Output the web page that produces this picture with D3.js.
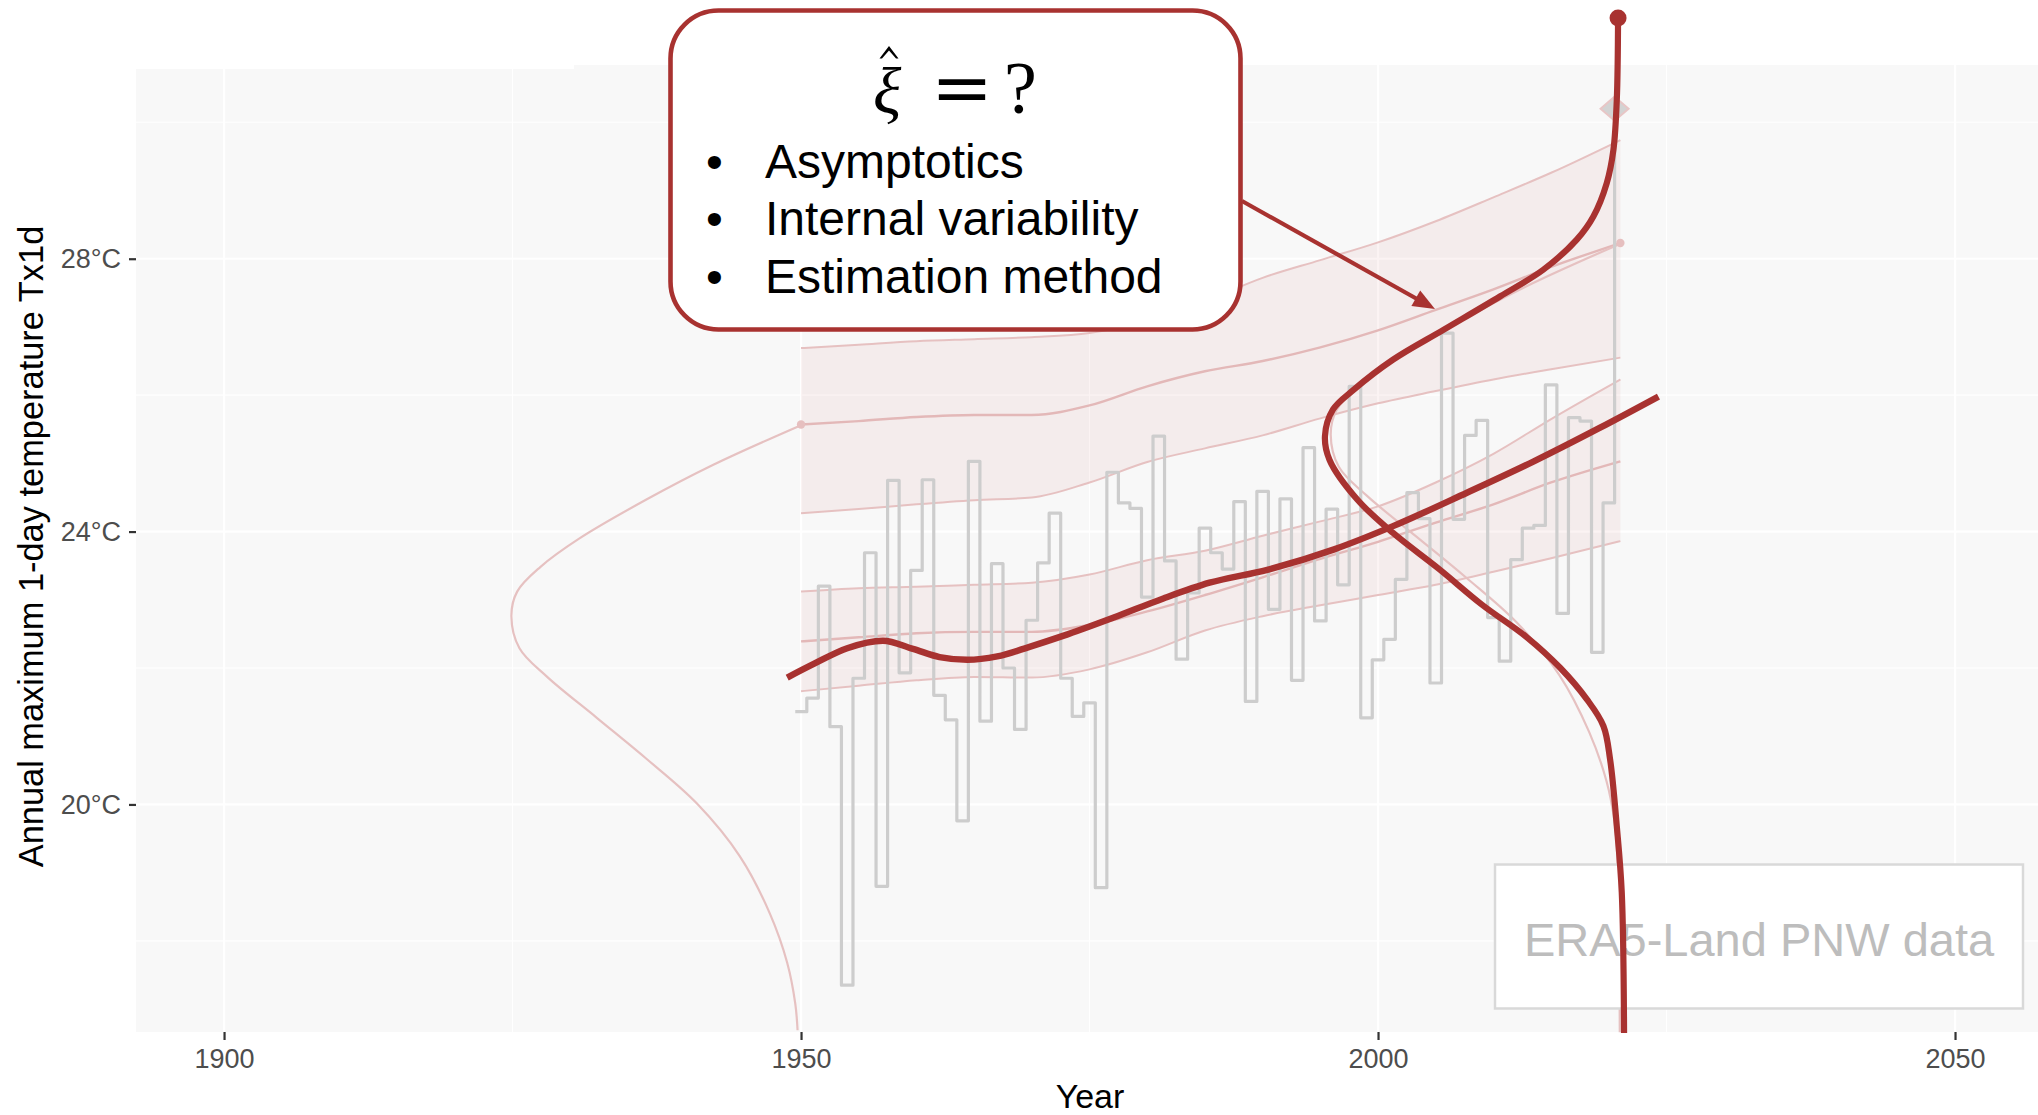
<!DOCTYPE html>
<html>
<head>
<meta charset="utf-8">
<script src="https://cdn.jsdelivr.net/npm/d3@7"></script>
<style>
  html, body { margin: 0; padding: 0; background: #ffffff; }
  svg { display: block; }
</style>
</head>
<body>
<svg id="chart" width="2038" height="1115"></svg>
<script>
// ---- Annual maximum 1-day temperature (Tx1d), ERA5-Land Pacific Northwest ----
const obsYears = d3.range(1950, 2022);
const obsTx1d = [
  21.36, 21.56, 23.20, 21.14, 17.35, 21.85, 23.69, 18.80, 24.75, 21.93,
  23.43, 24.76, 21.60, 21.24, 19.76, 25.03, 21.22, 23.53, 22.00, 21.10,
  22.70, 23.54, 24.27, 21.85, 21.29, 21.49, 18.78, 24.87, 24.42, 24.34,
  23.04, 25.40, 23.57, 22.13, 23.10, 24.05, 23.69, 23.45, 24.44, 21.51,
  24.59, 22.86, 24.48, 21.82, 25.23, 22.69, 24.33, 23.22, 26.13, 21.27,
  22.12, 22.42, 23.30, 24.57, 24.19, 21.78, 26.91, 24.18, 25.41, 25.63,
  22.74, 22.10, 23.59, 24.05, 24.09, 26.15, 22.80, 25.67, 25.62, 22.23,
  24.42, 30.20
];
const recordYear = 2021;
const recordTx1d = 30.20;

// Fitted GEV location (lower band) and upper endpoint (upper band), with intervals
const bandYears = [1950, 1955, 1960, 1965, 1970, 1975, 1980, 1985, 1990, 1995, 2000, 2005, 2010, 2015, 2021];
const locLow   = [21.66, 21.74, 21.82, 21.87, 21.86, 21.98, 22.23, 22.55, 22.76, 22.92, 23.07, 23.22, 23.41, 23.61, 23.86];
const locMid   = [22.39, 22.45, 22.51, 22.53, 22.53, 22.63, 22.83, 23.07, 23.33, 23.60, 23.85, 24.13, 24.40, 24.72, 25.03];
const locHigh  = [23.12, 23.17, 23.19, 23.22, 23.25, 23.37, 23.58, 23.72, 23.94, 24.15, 24.37, 24.72, 25.14, 25.65, 26.23];
const boundLow  = [24.27, 24.33, 24.40, 24.46, 24.50, 24.72, 25.02, 25.22, 25.41, 25.66, 25.88, 26.06, 26.23, 26.38, 26.55];
const boundMid  = [25.57, 25.62, 25.68, 25.71, 25.71, 25.85, 26.13, 26.35, 26.50, 26.70, 26.95, 27.25, 27.55, 27.88, 28.23];
const boundHigh = [26.69, 26.74, 26.79, 26.82, 26.85, 26.91, 27.10, 27.38, 27.72, 27.98, 28.24, 28.55, 28.90, 29.26, 29.74];

// Smooth trend of the annual maxima
const trendYears = [1948.8, 1951.1, 1954.0, 1957.1, 1959.7, 1962.0, 1964.4, 1967.0, 1969.8, 1972.7,
                    1977.1, 1981.4, 1985.4, 1990.4, 1996.2, 2001.3, 2007.7, 2013.5, 2019.2, 2024.3];
const trendTx1d  = [21.86, 22.06, 22.29, 22.40, 22.28, 22.16, 22.12, 22.17, 22.31, 22.47,
                    22.74, 23.02, 23.25, 23.44, 23.74, 24.08, 24.57, 25.03, 25.52, 25.98];

// GEV density in 1950, laid sideways (width in years to the left of 1950)
const dens1950Temp  = [25.56, 24.98, 24.47, 23.90, 23.48, 23.12, 22.76, 22.29, 21.87, 21.27, 20.67, 20.01, 19.24, 18.40, 17.68, 17.08, 16.69];
const dens1950Width = [0.0, 7.6, 13.4, 19.2, 22.6, 24.6, 25.1, 24.4, 22.0, 17.7, 13.4, 9.0, 5.3, 2.7, 1.2, 0.5, 0.3];

// GEV density in 2021, laid sideways (width in years to the left of 2021)
const dens2021Temp  = [28.22, 27.64, 27.13, 26.56, 26.14, 25.78, 25.42, 24.95, 24.53, 23.93, 23.33, 22.67, 21.90, 21.06, 20.34, 19.74, 19.35, 18.20, 16.66];
const dens2021Width = [0.0, 7.6, 13.4, 19.2, 22.6, 24.6, 25.1, 24.4, 22.0, 17.7, 13.4, 9.0, 5.3, 2.7, 1.2, 0.5, 0.3, 0.12, 0.05];

// Alternative 2021 density with an open upper tail (shape parameter unknown)
const tailTemp  = [31.53, 30.33, 29.60, 29.11, 28.62, 28.28, 27.84, 27.45, 26.96, 26.52, 26.08, 25.79, 25.40, 25.05,
                   24.47, 23.98, 23.45, 22.93, 22.45, 22.00, 21.54, 21.15, 20.66, 19.68, 18.71, 16.65];
const tailWidth = [0.20, 0.31, 0.60, 1.18, 2.34, 3.78, 6.67, 10.4, 15.3, 19.7, 23.1, 24.9, 25.6, 25.2,
                   22.8, 19.7, 15.7, 12.0, 8.1, 5.2, 2.9, 1.47, 0.89, 0.31, -0.12, -0.32];

// Axes
const xTicks = [1900, 1950, 2000, 2050];
const xMinor = [1925, 1975, 2025];
const yTicks = [20, 24, 28];
const yMinor = [18, 22, 26, 30];

const calloutItems = ["Asymptotics", "Internal variability", "Estimation method"];
const sourceLabel = "ERA5-Land PNW data";

// ---- Layout ----
const panel = { left: 136, right: 2038, top: 65, bottom: 1032 };
const SANS = "'Liberation Sans', Arial, Helvetica, sans-serif";
const SERIF = "'Liberation Serif', 'Times New Roman', serif";
const RED = "#A83230";
const PINK = "#E6C1C1";
const BAND = "rgba(205, 90, 90, 0.075)";

const svg = d3.select("#chart");

const x = d3.scaleLinear().domain([1892.37, 2057.19]).range([panel.left, panel.right]);
const y = d3.scaleLinear().domain([16.664, 30.84]).range([panel.bottom, panel.top]);

// Panel background and grid
svg.append("rect")
  .attr("x", panel.left).attr("y", panel.top)
  .attr("width", panel.right - panel.left).attr("height", panel.bottom - panel.top)
  .attr("fill", "#F8F8F8");

const grid = svg.append("g").attr("stroke", "#ffffff");
grid.selectAll(".vmin").data(xMinor).join("line")
  .attr("x1", d => x(d)).attr("x2", d => x(d)).attr("y1", panel.top).attr("y2", panel.bottom)
  .attr("stroke-width", 1.1);
grid.selectAll(".hmin").data(yMinor).join("line")
  .attr("y1", d => y(d)).attr("y2", d => y(d)).attr("x1", panel.left).attr("x2", panel.right)
  .attr("stroke-width", 1.1);
grid.selectAll(".vmaj").data(xTicks).join("line")
  .attr("x1", d => x(d)).attr("x2", d => x(d)).attr("y1", panel.top).attr("y2", panel.bottom)
  .attr("stroke-width", 2.2);
grid.selectAll(".hmaj").data(yTicks).join("line")
  .attr("y1", d => y(d)).attr("y2", d => y(d)).attr("x1", panel.left).attr("x2", panel.right)
  .attr("stroke-width", 2.2);

// blank title strip above the panel
svg.append("rect").attr("x", 136).attr("y", 0).attr("width", 438).attr("height", 69).attr("fill", "#ffffff");

// ---- Bands ----
const bandRows = bandYears.map((yr, i) => ({
  yr, locLow: locLow[i], locMid: locMid[i], locHigh: locHigh[i],
  bLow: boundLow[i], bMid: boundMid[i], bHigh: boundHigh[i]
}));

function bandArea(lo, hi) {
  return d3.area().x(d => x(d.yr)).y0(d => y(d[lo])).y1(d => y(d[hi])).curve(d3.curveMonotoneX);
}
function bandLine(key) {
  return d3.line().x(d => x(d.yr)).y(d => y(d[key])).curve(d3.curveMonotoneX);
}

svg.append("path").datum(bandRows).attr("d", bandArea("bLow", "bHigh")).attr("fill", BAND);
svg.append("path").datum(bandRows).attr("d", bandArea("locLow", "locHigh")).attr("fill", BAND);

["bLow", "bHigh", "locLow", "locHigh"].forEach(k => {
  svg.append("path").datum(bandRows).attr("d", bandLine(k))
    .attr("fill", "none").attr("stroke", PINK).attr("stroke-width", 2);
});
["bMid", "locMid"].forEach(k => {
  svg.append("path").datum(bandRows).attr("d", bandLine(k))
    .attr("fill", "none").attr("stroke", "#E3B8B8").attr("stroke-width", 2.4);
});

// ---- Sideways densities ----
function sideways(base, temps, widths) {
  const pts = temps.map((t, i) => [x(base - widths[i]), y(t)]);
  return d3.line().curve(d3.curveCatmullRom.alpha(0.5))(pts);
}

svg.append("path").attr("d", sideways(1950, dens1950Temp, dens1950Width))
  .attr("fill", "none").attr("stroke", PINK).attr("stroke-width", 2.2);
svg.append("path").attr("d", sideways(2021, dens2021Temp, dens2021Width))
  .attr("fill", "none").attr("stroke", PINK).attr("stroke-width", 2.2);

// upper endpoints in 1950 and 2021
svg.append("g").selectAll("circle")
  .data([[bandYears[0], boundMid[0]], [bandYears[bandYears.length - 1], boundMid[boundMid.length - 1]]])
  .join("circle")
  .attr("cx", d => x(d[0])).attr("cy", d => y(d[1])).attr("r", 4.2)
  .attr("fill", "#E6BFBF");

// ---- Observed annual maxima as centred steps ----
const stepPts = obsYears.map((yr, i) => [x(yr - 0.5), y(obsTx1d[i])]);
stepPts.push([x(obsYears[obsYears.length - 1] + 0.5), y(obsTx1d[obsTx1d.length - 1])]);
svg.append("path")
  .attr("d", d3.line().curve(d3.curveStepAfter)(stepPts))
  .attr("fill", "none").attr("stroke", "#CDCDCD").attr("stroke-width", 3.2)
  .attr("stroke-linejoin", "round");

// 2021 record value
const rx = x(recordYear - 0.5), ry = y(recordTx1d);
svg.append("path")
  .attr("d", `M${rx},${ry - 12} L${rx + 14},${ry} L${rx},${ry + 12} L${rx - 14},${ry} Z`)
  .attr("fill", "#D3D3D3").attr("stroke", "#E8C6C6").attr("stroke-width", 2);

// ---- Source label ----
svg.append("rect")
  .attr("x", 1495).attr("y", 864.5).attr("width", 528).attr("height", 144)
  .attr("fill", "#ffffff").attr("stroke", "#D9D9D9").attr("stroke-width", 2.5);
svg.append("text")
  .attr("x", 1759).attr("y", 956).attr("text-anchor", "middle")
  .attr("font-family", SANS).attr("font-size", 47).attr("fill", "#BDBDBD")
  .text(sourceLabel);

// ---- Trend and open-tail density (thick red) ----
svg.append("path")
  .attr("d", d3.line().x(d => x(d)).y((d, i) => y(trendTx1d[i])).curve(d3.curveMonotoneX)(trendYears))
  .attr("fill", "none").attr("stroke", RED).attr("stroke-width", 6.5);

svg.append("path").attr("d", sideways(2021, tailTemp, tailWidth))
  .attr("fill", "none").attr("stroke", RED).attr("stroke-width", 6.2);
svg.append("circle")
  .attr("cx", x(2021 - tailWidth[0])).attr("cy", y(tailTemp[0])).attr("r", 8.5)
  .attr("fill", RED);

// ---- Axes ----
const gx = svg.append("g")
  .attr("transform", `translate(0,${panel.bottom})`)
  .call(d3.axisBottom(x).tickValues(xTicks).tickFormat(d3.format("d")).tickSize(8).tickPadding(9));
gx.select(".domain").remove();
gx.attr("font-family", SANS).attr("font-size", 27);
gx.selectAll("line").attr("stroke", "#333333").attr("stroke-width", 2.2);
gx.selectAll("text").attr("fill", "#4D4D4D");

const gy = svg.append("g")
  .attr("transform", `translate(${panel.left},0)`)
  .call(d3.axisLeft(y).tickValues(yTicks).tickFormat(d => d + "°C").tickSize(7).tickPadding(8));
gy.select(".domain").remove();
gy.attr("font-family", SANS).attr("font-size", 27);
gy.selectAll("line").attr("stroke", "#333333").attr("stroke-width", 2.2);
gy.selectAll("text").attr("fill", "#4D4D4D");

svg.append("text")
  .attr("x", 1090).attr("y", 1108).attr("text-anchor", "middle")
  .attr("font-family", SANS).attr("font-size", 34).attr("fill", "#000")
  .text("Year");

svg.append("text")
  .attr("transform", "translate(43,546.5) rotate(-90)")
  .attr("text-anchor", "middle")
  .attr("font-family", SANS).attr("font-size", 34.4).attr("fill", "#000")
  .text("Annual maximum 1-day temperature Tx1d");

// ---- Callout ----
svg.append("rect")
  .attr("x", 670.5).attr("y", 10.5).attr("width", 570).attr("height", 319)
  .attr("rx", 48).attr("ry", 48)
  .attr("fill", "#ffffff").attr("stroke", RED).attr("stroke-width", 4.6);

// estimated shape parameter: xi-hat = ?
const eq = svg.append("text").attr("fill", "#000").attr("font-family", SERIF);
eq.append("tspan").attr("x", 873).attr("y", 113)
  .attr("font-style", "italic").attr("font-size", 66).text("ξ");
eq.append("tspan").attr("x", 931).attr("y", 113)
  .attr("font-family", "'DejaVu Serif', serif").attr("font-size", 74).text("=");
eq.append("tspan").attr("x", 1004).attr("y", 113)
  .attr("font-size", 74).text("?");
// hat accent over xi
svg.append("path")
  .attr("d", "M879.5,58.5 L889,46 L898.5,58.5 L896,58.5 L889,50.5 L882,58.5 Z")
  .attr("fill", "#000");

const items = svg.append("g").attr("font-family", SANS).attr("font-size", 48).attr("fill", "#000");
calloutItems.forEach((t, i) => {
  const by = 177.5 + i * 57.7;
  items.append("text").attr("x", 706).attr("y", by).text("•");
  items.append("text").attr("x", 765).attr("y", by).text(t);
});

// arrow from the callout to the upper band
const a0 = [1242, 201], a1 = [1435, 309];
const ang = Math.atan2(a1[1] - a0[1], a1[0] - a0[0]);
const headLen = 22, headHalf = 9;
const hx = a1[0] - headLen * Math.cos(ang), hy = a1[1] - headLen * Math.sin(ang);
svg.append("line")
  .attr("x1", a0[0]).attr("y1", a0[1]).attr("x2", hx + 3 * Math.cos(ang)).attr("y2", hy + 3 * Math.sin(ang))
  .attr("stroke", RED).attr("stroke-width", 4.2);
svg.append("path")
  .attr("d", `M${a1[0]},${a1[1]} L${hx - headHalf * Math.sin(ang)},${hy + headHalf * Math.cos(ang)} L${hx + headHalf * Math.sin(ang)},${hy - headHalf * Math.cos(ang)} Z`)
  .attr("fill", RED);
</script>
</body>
</html>
